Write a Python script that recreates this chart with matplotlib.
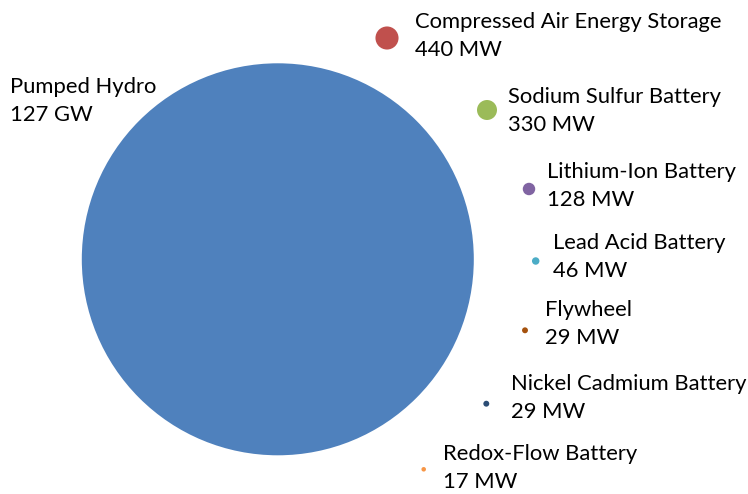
import matplotlib
matplotlib.use("Agg")
import matplotlib.pyplot as plt
from matplotlib.patches import Circle
import numpy as np

# ---- data ----
technologies = ["Pumped Hydro", "Compressed Air Energy Storage", "Sodium Sulfur Battery",
                "Lithium-Ion Battery", "Lead Acid Battery", "Flywheel",
                "Nickel Cadmium Battery", "Redox-Flow Battery"]
capacity_mw = [127000, 440, 330, 128, 46, 29, 29, 17]
capacity_labels = ["127 GW", "440 MW", "330 MW", "128 MW", "46 MW", "29 MW", "29 MW", "17 MW"]
# bubble chart x / y values
x_vals = [277.8, 387, 487, 529, 535.7, 525, 486.3, 423.7]
y_vals = [259.3, 38, 110, 189, 261, 330.3, 403.7, 469.3]

# ---- style / layout ----
colors = ["#4F81BD", "#C0504D", "#9BBB59", "#8064A2", "#4BACC6", "#A5520E", "#2C4D75", "#F79646"]
label_pos = [(10, 101), (415, 36), (508, 111), (547, 186), (553, 257), (545, 324), (511, 398), (443, 468)]
max_radius = 196.0

fig = plt.figure(figsize=(7.48, 4.94), dpi=100)
ax = fig.add_axes([0, 0, 1, 1])
ax.set_xlim(0, 748)
ax.set_ylim(494, 0)
ax.set_aspect("equal")
ax.axis("off")

scale = max_radius / np.sqrt(max(capacity_mw))
for xv, yv, v, c in zip(x_vals, y_vals, capacity_mw, colors):
    ax.add_patch(Circle((xv, yv), scale * np.sqrt(v), facecolor=c, edgecolor="none"))

for name, lab, (lx, ly) in zip(technologies, capacity_labels, label_pos):
    ax.text(lx, ly, f"{name}\n{lab}", ha="left", va="center", fontsize=15.8,
            family="Lato", linespacing=1.46, color="#000000")

fig.savefig("out.png", dpi=100)
